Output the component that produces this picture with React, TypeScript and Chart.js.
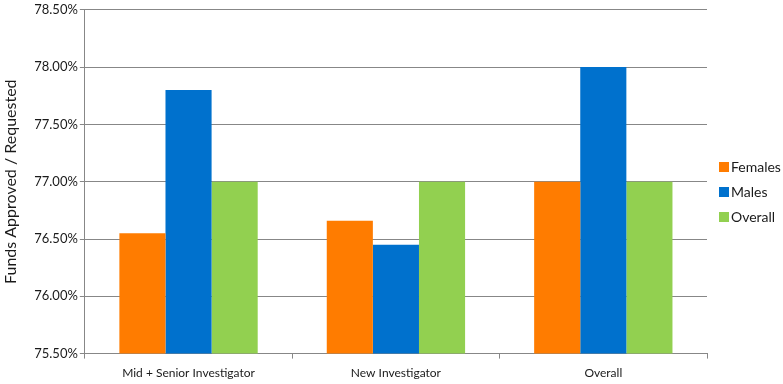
import React, { useEffect, useRef } from "react";
import { Chart, registerables } from "chart.js";

Chart.register(...registerables);

const categories = ["Mid + Senior Investigator", "New Investigator", "Overall"];
const seriesNames = ["Females", "Males", "Overall"];
const femalesValues = [76.55, 76.66, 77.0];
const malesValues = [77.8, 76.45, 78.0];
const overallValues = [77.0, 77.0, 77.0];
const seriesColors = ["#FF7C00", "#0071CD", "#92D050"];
const yMin = 75.5;
const yMax = 78.5;
const yStep = 0.5;
const yTitle = "Funds Approved / Requested";

const FONT = "Lato, 'Liberation Sans', sans-serif";
const TEXT = "#1a1a1a";
const GRID = "#878787";

const sideLegend = {
  id: "sideLegend",
  afterDraw(chart: any) {
    const ctx = chart.ctx;
    const area = chart.chartArea;
    const ds = chart.data.datasets;
    const x0 = area.right + 12;
    const spacing = 25;
    const cy = chart.height / 2;
    const startY = cy - ((ds.length - 1) * spacing) / 2;
    ctx.save();
    ctx.font = `14px ${FONT}`;
    ctx.textBaseline = "middle";
    ctx.textAlign = "left";
    ds.forEach((d: any, i: number) => {
      const y = startY + i * spacing;
      ctx.fillStyle = d.backgroundColor;
      ctx.fillRect(x0, y - 5, 10, 10);
      ctx.fillStyle = TEXT;
      ctx.fillText(d.label, x0 + 12, y);
    });
    ctx.restore();
  },
};

export default function App() {
  const ref = useRef<HTMLCanvasElement | null>(null);

  useEffect(() => {
    if (!ref.current) return;
    const seriesValues = [femalesValues, malesValues, overallValues];
    const chart = new Chart(ref.current, {
      type: "bar",
      data: {
        labels: categories,
        datasets: seriesNames.map((name, i) => ({
          label: name,
          data: seriesValues[i],
          backgroundColor: seriesColors[i],
          borderWidth: 0,
          categoryPercentage: 0.667,
          barPercentage: 1.0,
        })),
      },
      options: {
        animation: false,
        responsive: false,
        maintainAspectRatio: false,
        layout: { padding: { left: 0, right: 76, top: 7, bottom: -3 } },
        plugins: {
          legend: { display: false },
          tooltip: { enabled: false },
        },
        scales: {
          x: {
            grid: {
              display: true,
              drawOnChartArea: false,
              offset: true,
              color: GRID,
              tickLength: 5,
            },
            border: { display: true, color: GRID },
            ticks: {
              color: TEXT,
              font: { family: FONT, size: 12 },
              padding: 7,
              maxRotation: 0,
            },
          },
          y: {
            min: yMin,
            max: yMax,
            ticks: {
              stepSize: yStep,
              color: TEXT,
              font: { family: FONT, size: 13 },
              padding: 2,
              callback: (v: any) => Number(v).toFixed(2) + "%",
            },
            grid: { color: GRID, tickLength: 5 },
            border: { display: true, color: GRID },
            title: {
              display: true,
              text: yTitle,
              color: TEXT,
              font: { family: FONT, size: 16 },
              padding: { top: 1, bottom: 12 },
            },
          },
        },
      },
      plugins: [sideLegend],
    });
    return () => chart.destroy();
  }, []);

  return (
    <div style={{ position: "fixed", left: 0, top: 0, width: 783, height: 384, background: "#fff" }}>
      <canvas ref={ref} width={783} height={384} style={{ width: 783, height: 384 }} />
    </div>
  );
}
